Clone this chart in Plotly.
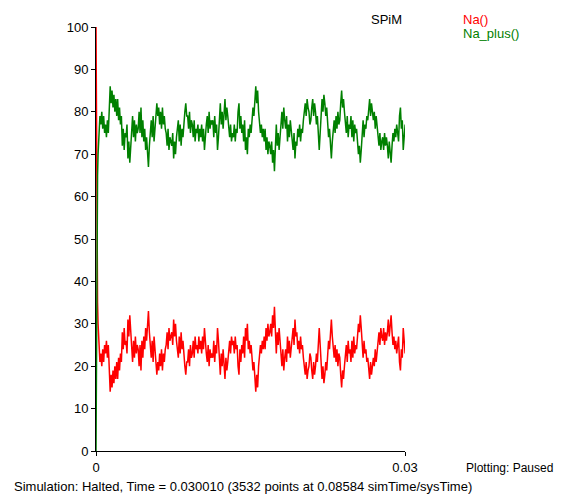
import numpy as np
import plotly.graph_objects as go

# initial transient (time, Na(), Na_plus())
t_start = [0.0, 0.00003, 0.00006, 0.0001, 0.00015, 0.0002]
na_start = [100, 80, 60, 45, 35, 30]
na_plus_start = [0, 20, 40, 55, 65, 70]

# steady fluctuating part
na_plus = [
74, 79, 77, 80, 76, 79,
75, 77, 74, 78, 75,
80, 86, 82, 85,
81, 84, 80, 83,
79, 83, 78, 81,
77, 79, 72, 76, 71, 75,
74, 77, 69, 73, 68, 72,
75, 79, 74, 78, 73, 77, 75,
76, 80, 75, 81, 74, 78,
73, 76, 71, 74,
70, 67, 72,
75, 78, 74, 79, 73, 77,
78, 82, 79, 81, 77,
80, 76, 81, 77, 79, 76,
75, 72, 76, 71, 74, 73,
72, 75, 69, 73, 70, 74,
76, 78, 73, 77, 72, 76, 74, 78,
80, 82, 79,
79, 76, 80, 75, 78,
77, 74, 78, 73, 76, 75, 77, 73, 76,
74, 77, 73, 76, 71, 75,
77, 79, 75, 80, 76, 78, 77,
78, 74, 79, 75, 77, 71, 74,
78, 82, 77, 80, 76,
79, 83, 78, 81, 79,
76, 74, 77, 73, 75,
74, 77, 73, 76, 75,
80, 82, 76, 79, 75,
77, 73, 78, 71, 74, 70,
76, 74, 77, 75,
78, 81, 79, 84, 86,
82, 85, 80,
78, 75, 77, 74, 76,
73, 76, 71, 74, 70, 73, 72,
70, 73, 68, 71, 66,
73, 77, 72, 75, 71, 74,
77, 80, 76, 81, 78,
76, 79, 73, 77, 74, 78, 75,
74, 71, 75, 69, 73, 72, 76,
74, 77, 73, 76, 75, 78,
80, 82, 79, 83, 81, 80, 77,
78, 81, 83, 79, 82,
80, 77, 79, 76, 71,
75, 79, 83, 80, 84, 82, 79, 81,
77, 74, 76, 72, 69, 73, 75,
78, 75, 79, 76, 80, 77, 78,
82, 85, 81, 83, 80,
78, 75, 79, 74, 77,
76, 79, 74, 78, 73, 77, 75, 76,
73, 70, 72, 68, 71,
75, 78, 74, 77, 76, 79, 78,
80, 83, 79, 82, 80,
78, 80, 76, 79, 77,
74, 72, 75, 71, 73, 74, 71, 75, 72, 74,
72, 69, 73, 70, 68, 72,
75, 73, 76, 74, 77, 75, 73,
79, 81, 76, 78, 71, 74, 77,
]

na = [
26, 21, 23, 20, 24, 21,
25, 23, 26, 22, 25,
20, 14, 18, 15,
19, 16, 20, 17,
21, 17, 22, 19,
23, 21, 28, 24, 29, 25,
26, 23, 31, 27, 32, 28,
25, 21, 26, 22, 27, 23, 25,
24, 20, 25, 19, 26, 22,
27, 24, 29, 26,
30, 33, 28,
25, 22, 26, 21, 27, 23,
22, 18, 21, 19, 23,
20, 24, 19, 23, 21, 24,
25, 28, 24, 29, 26, 27,
28, 25, 31, 27, 30, 26,
24, 22, 27, 23, 28, 24, 26, 22,
20, 18, 21,
21, 24, 20, 25, 22,
23, 26, 22, 27, 24, 25, 23, 27, 24,
26, 23, 27, 24, 29, 25,
23, 21, 25, 20, 24, 22, 23,
22, 26, 21, 25, 23, 29, 26,
22, 18, 23, 20, 24,
21, 17, 22, 19, 21,
24, 26, 23, 27, 25,
26, 23, 27, 24, 25,
20, 18, 24, 21, 25,
23, 27, 22, 29, 26, 30,
24, 26, 23, 25,
22, 19, 21, 16, 14,
18, 15, 20,
22, 25, 23, 26, 24,
27, 24, 29, 26, 30, 27, 28,
30, 27, 32, 29, 34,
27, 23, 28, 25, 29, 26,
23, 20, 24, 19, 22,
24, 21, 27, 23, 26, 22, 25,
26, 29, 25, 31, 27, 28, 24,
26, 23, 27, 24, 25, 22,
20, 18, 21, 17, 19, 20, 23,
22, 19, 17, 21, 18,
20, 23, 21, 24, 29,
25, 21, 17, 20, 16, 18, 21, 19,
23, 26, 24, 28, 31, 27, 25,
22, 25, 21, 24, 20, 23, 22,
18, 15, 19, 17, 20,
22, 25, 21, 26, 23,
24, 21, 26, 22, 27, 23, 25, 24,
27, 30, 28, 32, 29,
25, 22, 26, 23, 24, 21, 22,
20, 17, 21, 18, 20,
22, 20, 24, 21, 23,
26, 28, 25, 29, 27, 26, 29, 25, 28, 26,
28, 31, 27, 30, 32, 28,
25, 27, 24, 26, 23, 25, 27,
21, 19, 24, 22, 29, 26, 23,
]

t_main_start = 0.00029
t_end = 0.03001

y_ticks = [0, 10, 20, 30, 40, 50, 60, 70, 80, 90, 100]
x_ticks = [0, 0.03]
x_tick_labels = ["0", "0.03"]

t_main = np.linspace(t_main_start, t_end, len(na_plus))
t_all = list(t_start) + list(t_main)
na_all = na_start + na
na_plus_all = na_plus_start + na_plus

fig = go.Figure()
fig.add_trace(go.Scatter(x=t_all, y=na_all, mode="lines", name="Na()",
                         line=dict(color="#ff0000", width=1.5)))
fig.add_trace(go.Scatter(x=t_all, y=na_plus_all, mode="lines", name="Na_plus()",
                         line=dict(color="#008000", width=1.5)))

# the page body has an 8px margin, so the figure is placed at (8, 8)
OFF = 8
W, H = 558, 490
L, T = 96 - OFF, 24 - OFF
pw, ph = 309, 427
R = W - L - pw
B = H - T - ph

def px(x):
    return (x - OFF - L) / pw

def py(y):
    return (T + ph - (y - OFF)) / ph

FAM = "Liberation Sans, Arial, sans-serif"
FS = 13

ann = [
    dict(text="SPiM", x=px(369), y=py(16), color="#000000", anchor="left", size=FS),
    dict(text="Na()", x=px(461), y=py(16), color="#ff0000", anchor="left", size=FS),
    dict(text="Na_plus()", x=px(461), y=py(31), color="#008000", anchor="left", size=FS),
    dict(text="Plotting: Paused", x=px(555), y=py(468), color="#000000", anchor="right", size=12),
    dict(text="Simulation: Halted, Time = 0.030010 (3532 points at 0.08584 simTime/sysTime)",
         x=px(12), y=py(487), color="#000000", anchor="left", size=FS),
]

fig.update_layout(
    width=W, height=H,
    margin=dict(l=L, r=R, t=T, b=B, pad=0),
    paper_bgcolor="white", plot_bgcolor="white",
    showlegend=False,
    font=dict(family=FAM, size=FS, color="#000000"),
    annotations=[dict(text=a["text"], x=a["x"], y=a["y"], xref="paper", yref="paper",
                      xanchor=a["anchor"], yanchor="middle", showarrow=False,
                      font=dict(family=FAM, size=a["size"], color=a["color"]))
                 for a in ann],
)
fig.update_xaxes(range=[0, 0.03], tickvals=x_ticks, ticktext=x_tick_labels,
                 showgrid=False, zeroline=False, showline=True, linecolor="black",
                 linewidth=1, ticks="outside", ticklen=4, tickcolor="black",
                 layer="below traces", tickfont=dict(family=FAM, size=FS, color="#000000"))
fig.update_yaxes(range=[0, 100], tickvals=y_ticks,
                 showgrid=False, zeroline=False, showline=True, linecolor="black",
                 linewidth=1, ticks="outside", ticklen=4, tickcolor="black",
                 layer="below traces", tickfont=dict(family=FAM, size=FS, color="#000000"))

fig.write_html("out.html")
